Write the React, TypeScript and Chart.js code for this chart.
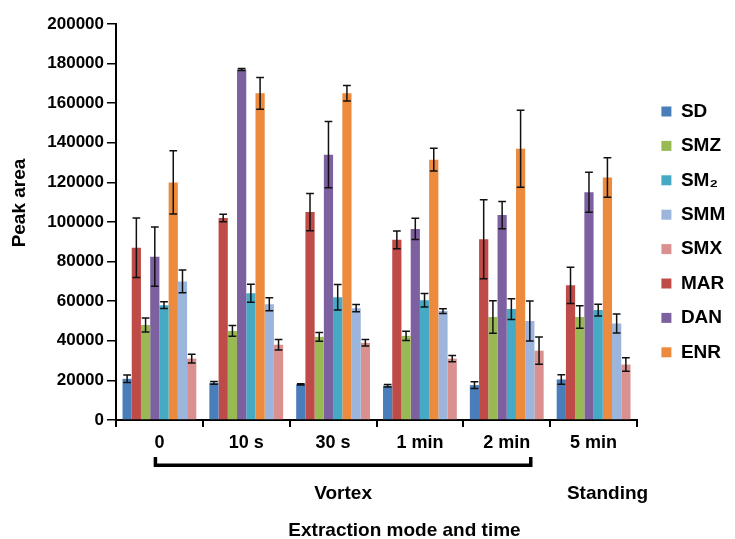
import React, { useEffect, useRef } from "react";
import { Chart, registerables } from "chart.js";

Chart.register(...registerables);

const FONT = "'Liberation Sans', Arial, Helvetica, sans-serif";

// Categories (extraction time)
const categories = ["0", "10 s", "30 s", "1 min", "2 min", "5 min"];

// Series in bar order within each group
const seriesNames = ["SD", "MAR", "SMZ", "DAN", "SM₂", "ENR", "SMM", "SMX"];
// Legend order
const legendOrder = ["SD", "SMZ", "SM₂", "SMM", "SMX", "MAR", "DAN", "ENR"];
const seriesColors = ["#4a7ebb", "#be4b48", "#98b954", "#7d60a0", "#46aac5", "#ec8b3e", "#9bb5dc", "#d9908e"];

// Peak areas
const SD = [20800, 18800, 18000, 17300, 17600, 20500];
const MAR = [87000, 102000, 105000, 91000, 91300, 68000];
const SMZ = [48000, 45000, 42000, 42500, 52000, 52000];
const DAN = [82500, 177000, 134000, 96500, 103500, 115000];
const SM2 = [58000, 64000, 62000, 60500, 56000, 55500];
const ENR = [120000, 165000, 165000, 131500, 137000, 122500];
const SMM = [70000, 58500, 56500, 55000, 50000, 48700];
const SMX = [31000, 38000, 39000, 31000, 35000, 28000];

// Error (± SD)
const SD_err = [1900, 700, 300, 600, 1700, 2400];
const MAR_err = [15000, 1900, 9400, 4500, 19900, 9100];
const SMZ_err = [3500, 2700, 2200, 2300, 8200, 5700];
const DAN_err = [15000, 500, 16700, 5400, 6900, 10100];
const SM2_err = [1700, 4500, 6400, 3400, 5200, 3000];
const ENR_err = [16000, 8000, 3900, 5700, 19400, 10000];
const SMM_err = [5700, 3300, 1800, 1200, 10100, 4800];
const SMX_err = [2200, 2700, 1600, 1600, 6900, 3400];

const seriesValues = [SD, MAR, SMZ, DAN, SM2, ENR, SMM, SMX];
const seriesErrors = [SD_err, MAR_err, SMZ_err, DAN_err, SM2_err, ENR_err, SMM_err, SMX_err];

// Y ticks
const yMin = 0;
const yMax = 200000;
const yStep = 20000;

const groupTexts = { vortex: "Vortex", standing: "Standing" };
const xTitle = "Extraction mode and time";
const yTitle = "Peak area";

export default function App() {
  const ref = useRef<HTMLCanvasElement>(null);

  useEffect(() => {
    if (!ref.current) return;
    Chart.defaults.font.family = FONT;

    const datasets = seriesNames.map((name, i) => ({
      label: name,
      data: seriesValues[i],
      backgroundColor: seriesColors[i],
      borderWidth: 0,
      categoryPercentage: 0.85,
      barPercentage: 1.0,
      yAxisID: "y",
    }));

    const errorBars = {
      id: "errorBars",
      afterDatasetsDraw(chart: any) {
        const { ctx } = chart;
        const y = chart.scales.y;
        ctx.save();
        ctx.strokeStyle = "#111";
        ctx.lineWidth = 1.5;
        chart.data.datasets.forEach((ds: any, i: number) => {
          const meta = chart.getDatasetMeta(i);
          meta.data.forEach((el: any, j: number) => {
            const v = ds.data[j];
            const e = seriesErrors[i][j];
            const yt = y.getPixelForValue(v + e);
            const yb = y.getPixelForValue(v - e);
            const half = el.width * 0.42;
            ctx.beginPath();
            ctx.moveTo(el.x, yt);
            ctx.lineTo(el.x, yb);
            ctx.moveTo(el.x - half, yt);
            ctx.lineTo(el.x + half, yt);
            ctx.moveTo(el.x - half, yb);
            ctx.lineTo(el.x + half, yb);
            ctx.stroke();
          });
        });
        ctx.restore();
      },
    };

    const annotations = {
      id: "annotations",
      afterDraw(chart: any) {
        const { ctx, chartArea } = chart;
        const x = chart.scales.x;
        const b = chartArea.bottom;
        ctx.save();
        // bracket
        const left = x.getPixelForValue(0) - 4;
        const right = x.getPixelForValue(4) + 24;
        ctx.strokeStyle = "#000";
        ctx.lineWidth = 3.5;
        ctx.lineJoin = "miter";
        ctx.beginPath();
        ctx.moveTo(left, b + 37);
        ctx.lineTo(left, b + 45.3);
        ctx.lineTo(right, b + 45.3);
        ctx.lineTo(right, b + 37);
        ctx.stroke();

        ctx.fillStyle = "#000";
        ctx.textAlign = "center";
        ctx.textBaseline = "middle";
        ctx.font = `bold 19px ${FONT}`;
        ctx.fillText(groupTexts.vortex, (left + right) / 2, b + 74);
        ctx.fillText(groupTexts.standing, x.getPixelForValue(5) + 14, b + 74);
        ctx.fillText(xTitle, (chartArea.left + chartArea.right) / 2 + 28, b + 111);

        ctx.translate(20, chartArea.top + 179);
        ctx.rotate(-Math.PI / 2);
        ctx.fillText(yTitle, 0, 0);
        ctx.restore();
      },
    };

    const chart = new Chart(ref.current, {
      type: "bar",
      data: { labels: categories, datasets },
      options: {
        responsive: true,
        maintainAspectRatio: false,
        animation: false,
        layout: { padding: { top: 24, left: 0, right: 0, bottom: 0 } },
        plugins: {
          tooltip: { enabled: false },
          legend: {
            position: "right",
            align: "start",
            fullSize: false,
            maxWidth: 89,
            title: {
              display: true,
              text: " ",
              font: { size: 10, lineHeight: 1 },
              padding: { top: 52.6, bottom: 0 },
            },
            labels: {
              boxWidth: 10,
              boxHeight: 10,
              padding: 15.4,
              color: "#000",
              font: { size: 19, weight: "bold" },
              sort: (a: any, b: any) => legendOrder.indexOf(a.text) - legendOrder.indexOf(b.text),
            },
          },
        },
        scales: {
          x: {
            offset: true,
            grid: {
              offset: true,
              drawOnChartArea: false,
              drawTicks: true,
              tickLength: 7,
              color: "#000",
              lineWidth: 2,
            },
            border: { display: true, color: "#000", width: 2 },
            ticks: {
              color: "#000",
              font: { size: 18, weight: "bold" },
              padding: 5.5,
              maxRotation: 0,
              autoSkip: false,
            },
            afterFit: (s: any) => {
              s.height = 119;
            },
          },
          y: {
            min: yMin,
            max: yMax,
            ticks: {
              stepSize: yStep,
              color: "#000",
              font: { size: 17, weight: "bold" },
              padding: 3,
              callback: (v: any) => String(v),
            },
            grid: {
              drawOnChartArea: false,
              tickLength: 9,
              color: "#000",
              lineWidth: 1.5,
            },
            border: { display: true, color: "#000", width: 2 },
            afterFit: (s: any) => {
              s.width = 116;
            },
          },
          yR: {
            position: "right",
            min: 0,
            max: 1,
            display: true,
            ticks: { display: false },
            grid: { display: false },
            border: { display: false },
            afterFit: (s: any) => {
              s.width = 9;
            },
          },
        },
      },
      plugins: [errorBars, annotations],
    } as any);

    return () => chart.destroy();
  }, []);

  return (
    <div style={{ position: "fixed", left: 0, top: 0, width: 735, height: 539, background: "#fff" }}>
      <canvas ref={ref} />
    </div>
  );
}
